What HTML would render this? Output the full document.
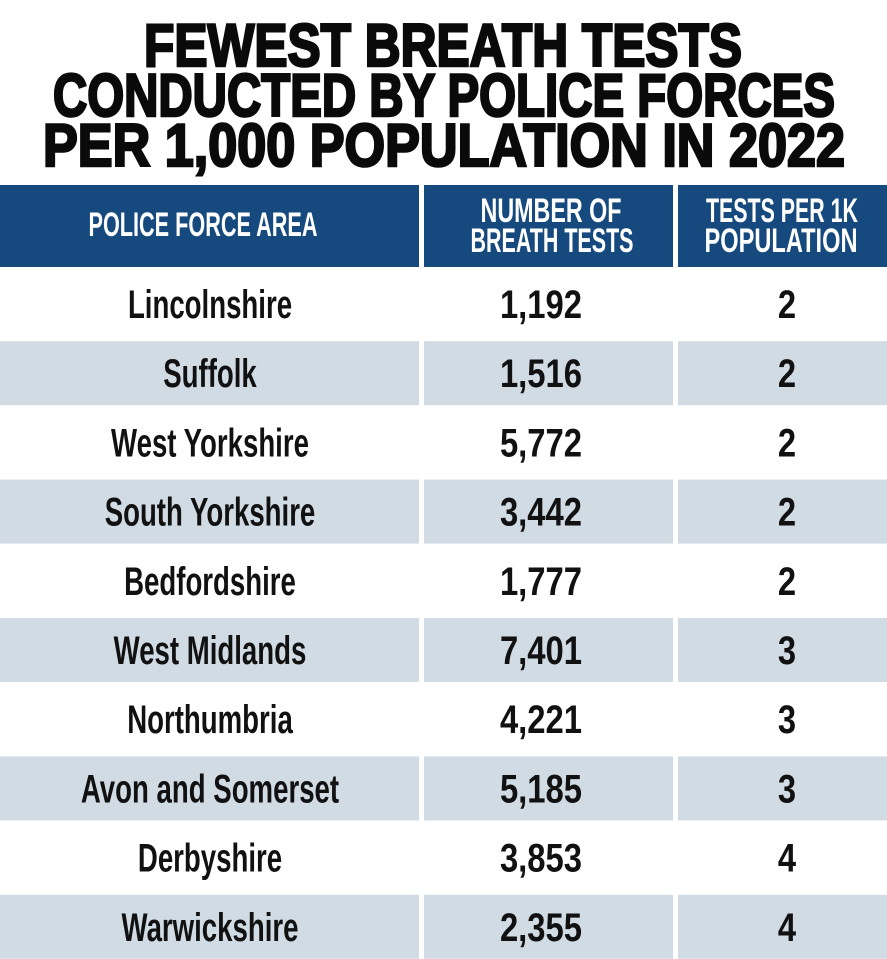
<!DOCTYPE html>
<html><head><meta charset="utf-8"><style>
html,body{margin:0;padding:0;background:#fff}
svg{display:block}
.t{font-family:"Liberation Sans",sans-serif;font-weight:900;fill:#0a0a0a}
.h{font-family:"Liberation Sans Narrow","Liberation Sans",sans-serif;font-weight:bold;fill:#fff;font-size:34px}
.c{font-family:"Liberation Sans Narrow","Liberation Sans",sans-serif;font-weight:bold;fill:#111;font-size:40px}
</style></head><body>
<svg id="chart" width="887" height="959" viewBox="0 0 887 959">
<g>
<text class="t" x="443" y="66" text-anchor="middle" font-size="60" textLength="598" lengthAdjust="spacingAndGlyphs" stroke="#0a0a0a" stroke-width="2.6">FEWEST BREATH TESTS</text>
<text class="t" x="444" y="116" text-anchor="middle" font-size="60" textLength="782" lengthAdjust="spacingAndGlyphs" stroke="#0a0a0a" stroke-width="2.6">CONDUCTED BY POLICE FORCES</text>
<text class="t" x="444" y="166" text-anchor="middle" font-size="60" textLength="802" lengthAdjust="spacingAndGlyphs" stroke="#0a0a0a" stroke-width="2.6">PER 1,000 POPULATION IN 2022</text>
</g>
<g>
<rect x="0" y="185" width="419" height="82" fill="#164a7e"/>
<rect x="424" y="185" width="249" height="82" fill="#164a7e"/>
<rect x="678" y="185" width="209" height="82" fill="#164a7e"/>
<text class="h" x="203" y="236" text-anchor="middle" textLength="229" lengthAdjust="spacingAndGlyphs">POLICE FORCE AREA</text>
<text class="h" x="551" y="222" text-anchor="middle" textLength="141" lengthAdjust="spacingAndGlyphs">NUMBER OF</text>
<text class="h" x="552" y="252" text-anchor="middle" textLength="163" lengthAdjust="spacingAndGlyphs">BREATH TESTS</text>
<text class="h" x="782" y="222" text-anchor="middle" textLength="152" lengthAdjust="spacingAndGlyphs">TESTS PER 1K</text>
<text class="h" x="781" y="252" text-anchor="middle" textLength="153" lengthAdjust="spacingAndGlyphs">POPULATION</text>
</g>
<g id="rows"></g>
</svg>
<script>
const areas=["Lincolnshire","Suffolk","West Yorkshire","South Yorkshire","Bedfordshire","West Midlands","Northumbria","Avon and Somerset","Derbyshire","Warwickshire"];
const breathTests=["1,192","1,516","5,772","3,442","1,777","7,401","4,221","5,185","3,853","2,355"];
const testsPer1k=["2","2","2","2","2","3","3","3","4","4"];
const NS="http://www.w3.org/2000/svg";
const g=document.getElementById('rows');
const cols=[[0,419,210],[424,249,541],[678,209,787]];
const squeeze=[0.69,0.82,0.82];
const pitch=69.2, firstCenter=303;
function mk(t,a){const e=document.createElementNS(NS,t);for(const k in a)e.setAttribute(k,a[k]);return e;}
areas.forEach((name,i)=>{
  const cy=firstCenter+i*pitch;
  if(i%2===1){
    cols.forEach((c,j)=>{
      const r=mk('rect',{x:c[0],y:cy-31,width:c[1],height:64,fill:'#d1dbe4'});
      
      
      g.appendChild(r);
    });
  }
  const vals=[name,breathTests[i],testsPer1k[i]];
  const names=['area-name','breath-test-count','tests-per-1k'];
  vals.forEach((v,j)=>{
    const t=mk('text',{class:'c',x:cols[j][2],y:cy+15,'text-anchor':'middle'});
    t.textContent=v;
    
    
    g.appendChild(t);
    const w=t.getComputedTextLength();
    t.setAttribute('textLength',(w*squeeze[j]).toFixed(1));
    t.setAttribute('lengthAdjust','spacingAndGlyphs');
  });
});
</script>
</body></html>
